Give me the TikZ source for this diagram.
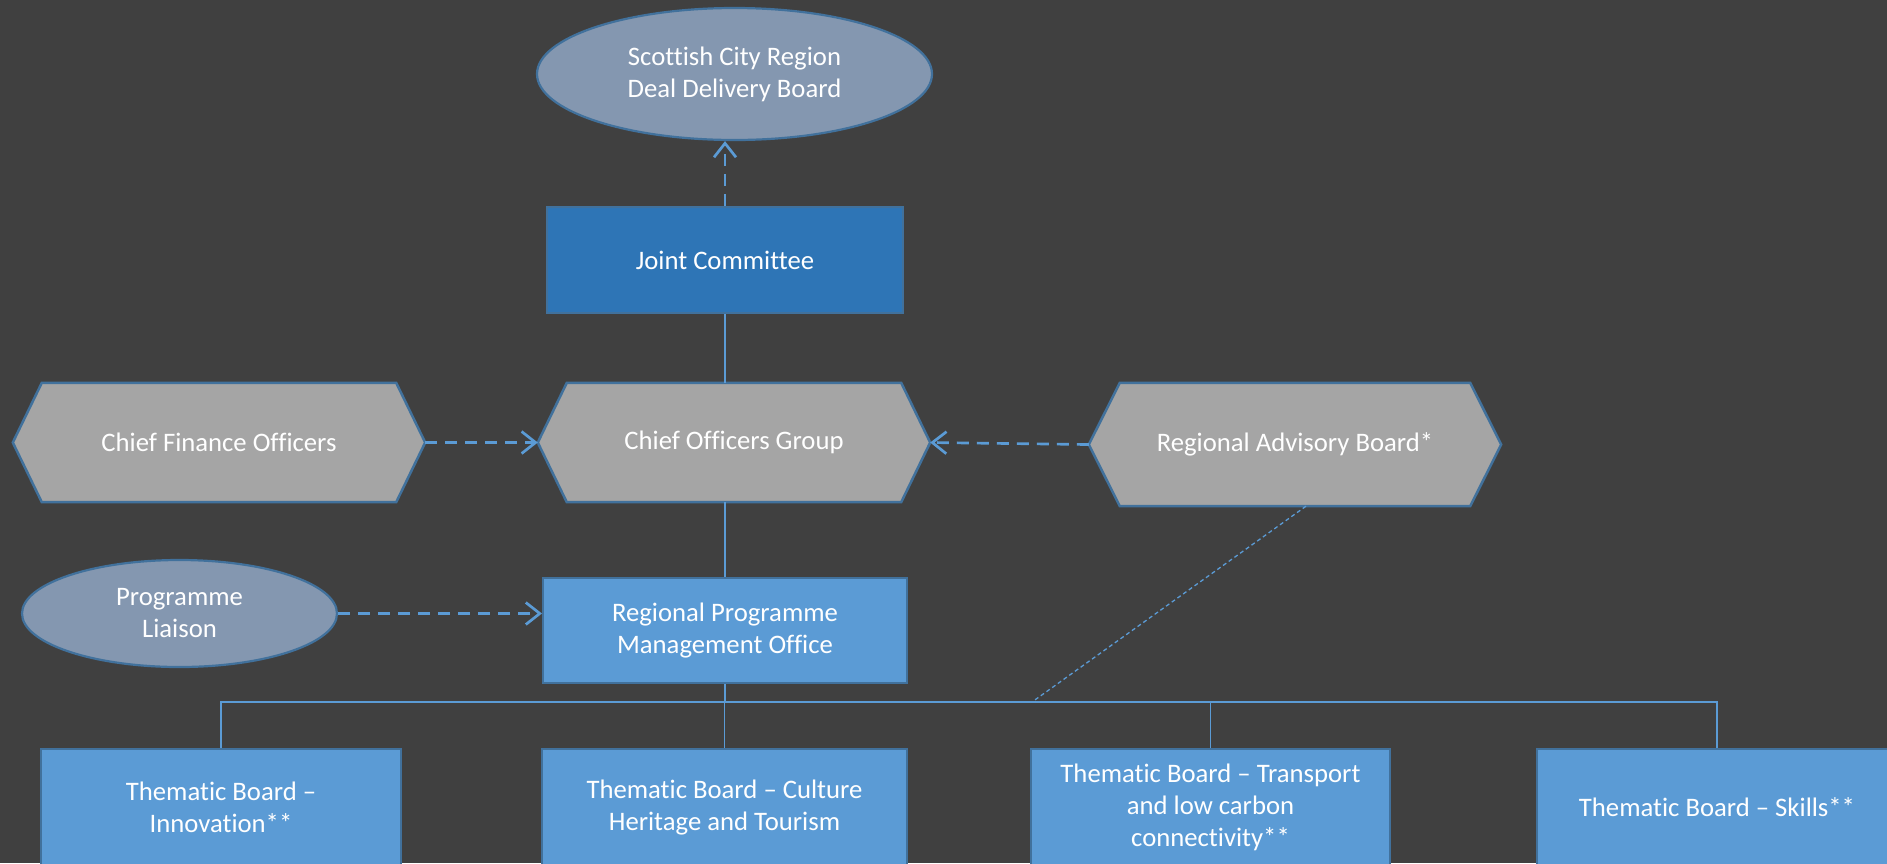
\documentclass[tikz,border=0pt]{standalone}
\usepackage{fontspec}
\setmainfont{Carlito}[Ligatures=NoCommon]
\usetikzlibrary{arrows.meta,shapes.geometric}
\definecolor{bgc}{HTML}{404040}
\definecolor{hexfill}{HTML}{A5A5A5}
\definecolor{ellfill}{HTML}{8497B0}
\definecolor{darkblue}{HTML}{2E75B6}
\definecolor{midblue}{HTML}{5B9BD5}
\definecolor{edgeblue}{HTML}{41719C}
\pgfdeclarelayer{back}
\pgfdeclarelayer{shapes}
\pgfsetlayers{back,shapes,main}
\newcommand{\hexpath}[2]{%
  \path[hexline] ([xshift=#2]#1.north west) -- ([xshift=-#2]#1.north east) -- (#1.east)
    -- ([xshift=-#2]#1.south east) -- ([xshift=#2]#1.south west) -- (#1.west) -- cycle;}
\begin{document}
\begin{tikzpicture}[x=1pt,y=-1pt,
  every node/.style={text=white, font=\fontsize{26.7}{32}\selectfont, align=center, inner sep=0pt},
  ellbox/.style={ellipse, draw=edgeblue, line width=2.2pt, fill=ellfill},
  rectbox/.style={rectangle, draw=edgeblue, line width=2pt, fill=midblue},
  jcbox/.style={rectangle, draw=edgeblue, line width=2pt, fill=darkblue},
  hexbox/.style={rectangle},
  hexline/.style={draw=edgeblue, line width=2.5pt, fill=hexfill, line join=miter},
  link/.style={draw=midblue, line width=1.5pt},
  dasharrow/.style={draw=midblue, line width=2.7pt, dash pattern=on 12pt off 8pt,
    -{Straight Barb[length=14pt,width=22pt]}},
  dotlink/.style={draw=midblue, line width=1.3pt, dash pattern=on 4pt off 3pt}]
\begin{pgfonlayer}{back}
  \fill[bgc] (0,0) rectangle (1887,863);
\end{pgfonlayer}
\useasboundingbox (0,0) rectangle (1887,863);

% nodes
\node[ellbox, minimum width=395pt, minimum height=132pt] (sdb) at (734.5,74) {Scottish City Region\\Deal Delivery Board};
\node[jcbox, minimum width=356pt, minimum height=106pt] (jc) at (725,260) {Joint Committee};
\node[hexbox, minimum width=412pt, minimum height=119pt] (cfo) at (219,442.5) {Chief Finance Officers};
\node[hexbox, minimum width=392pt, minimum height=119pt] (cog) at (734,442.5) {Chief Officers Group};
\node[hexbox, minimum width=412pt, minimum height=123pt] (rab) at (1295,444.5) {Regional Advisory Board*};
\node[ellbox, minimum width=315pt, minimum height=107pt] (pl) at (179.5,613.5) {Programme\\Liaison};
\node[rectbox, minimum width=364pt, minimum height=105pt] (rpmo) at (725,630.5) {Regional Programme\\Management Office};
\node[rectbox, minimum width=360pt, minimum height=117pt] (tb1) at (221,807.5) {Thematic Board --\\Innovation**};
\node[rectbox, minimum width=365pt, minimum height=117pt] (tb2) at (724.5,807.5) {Thematic Board -- Culture\\Heritage and Tourism};
\node[rectbox, minimum width=359pt, minimum height=117pt] (tb3) at (1210.5,807.5) {Thematic Board -- Transport\\and low carbon\\connectivity**};
\node[rectbox, minimum width=360pt, minimum height=117pt] (tb4) at (1717,807.5) {Thematic Board -- Skills**};

\begin{pgfonlayer}{shapes}
  \hexpath{cfo}{29pt}
  \hexpath{cog}{29pt}
  \hexpath{rab}{31pt}
\end{pgfonlayer}

% connectors
\coordinate (bus) at (725,702);
\coordinate (rabjoin) at (1032,702);
\draw[dasharrow] (jc.north) -- (jc.north |- sdb.south);
\draw[link] (jc.south) -- (jc.south |- cog.north);
\draw[link] (rpmo.north) -- (rpmo.north |- cog.south);
\draw[dasharrow] (cfo.east) -- (cog.west);
\draw[dasharrow] (rab.west) -- (cog.east);
\draw[dasharrow] (pl.east) -- (pl.east -| rpmo.west);
\draw[link] (rpmo.south) -- (bus);
\draw[link] (tb1.north) |- (bus) -| (tb4.north);
\draw[link] (tb2.north) -- (tb2.north |- bus);
\draw[link] (tb3.north) -- (tb3.north |- bus);
\draw[dotlink] ([xshift=11pt]rab.south) -- (rabjoin);
\end{tikzpicture}
\end{document}
